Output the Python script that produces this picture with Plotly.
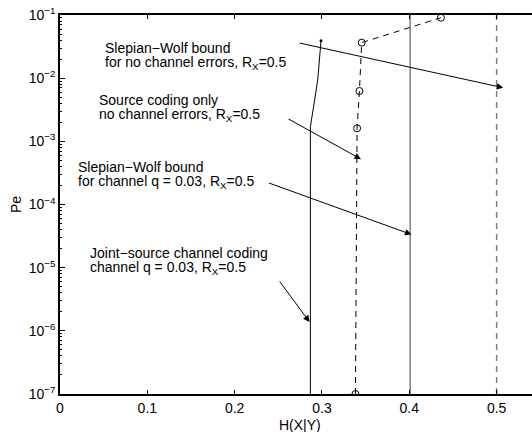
import math
import plotly.graph_objects as go

# ---- data ----
jscc_x = [0.2867, 0.2867, 0.2916, 0.2951, 0.2989]
jscc_y = [1e-7, 1.7e-3, 4.5e-3, 9.3e-3, 0.039]

src_x = [0.3383, 0.3402, 0.3429, 0.3455, 0.4362]
src_y = [1e-7, 1.61e-3, 6.27e-3, 0.0365, 0.0906]

sw_chan_x = [0.401, 0.401]
sw_chan_y = [1e-7, 1e-1]

sw_noerr_x = [0.5, 0.5]
sw_noerr_y = [1e-7, 1e-1]

ytick_vals = [1e-7, 1e-6, 1e-5, 1e-4, 1e-3, 1e-2, 1e-1]
ytick_text = ["10<sup>−7</sup>", "10<sup>−6</sup>", "10<sup>−5</sup>", "10<sup>−4</sup>",
              "10<sup>−3</sup>", "10<sup>−2</sup>", "10<sup>−1</sup>"]
xtick_vals = [0, 0.1, 0.2, 0.3, 0.4, 0.5]
xtick_text = ["0", "0.1", "0.2", "0.3", "0.4", "0.5"]

label_lines = [
    ["Slepian−Wolf bound", "for no channel errors, R<sub>X</sub>=0.5"],
    ["Source coding only", "no channel errors, R<sub>X</sub>=0.5"],
    ["Slepian−Wolf bound", "for channel q = 0.03, R<sub>X</sub>=0.5"],
    ["Joint−source channel coding", "channel q = 0.03, R<sub>X</sub>=0.5"],
]
label_x = [0.0492, 0.0424, 0.0183, 0.0321]
label_logy_top = [-1.523, -2.347, -3.409, -4.772]
label_logy_bot = [-1.761, -2.585, -3.647, -5.010]
arrow_x = [0.5076, 0.3447, 0.4025, 0.2858]
arrow_y = [7.05e-3, 5.22e-4, 3.35e-5, 1.38e-6]
arrow_ax = [-205, -74, -144, -31]
arrow_ay = [-45, -41, -52, -42]

FONT = "Liberation Sans, Arial, Helvetica, sans-serif"

fig = go.Figure()
fig.add_trace(go.Scatter(x=sw_chan_x, y=sw_chan_y, mode="lines",
                         line=dict(color="#7f7f7f", width=1.5), showlegend=False))
fig.add_trace(go.Scatter(x=sw_noerr_x, y=sw_noerr_y, mode="lines",
                         line=dict(color="#7f7f7f", width=1.5, dash="6px,5px"), showlegend=False))
fig.add_trace(go.Scatter(x=src_x, y=src_y, mode="lines+markers",
                         line=dict(color="black", width=1, dash="6px,5px"),
                         marker=dict(symbol="circle-open", size=7, color="black", line=dict(width=1)),
                         showlegend=False))
fig.add_trace(go.Scatter(x=jscc_x, y=jscc_y, mode="lines",
                         line=dict(color="black", width=1), showlegend=False))
fig.add_trace(go.Scatter(x=jscc_x[-1:], y=jscc_y[-1:], mode="markers",
                         marker=dict(symbol="circle", size=3, color="black"), showlegend=False))

annotations = []
for lines, lx, lt, lb in zip(label_lines, label_x, label_logy_top, label_logy_bot):
    for t, ly in zip(lines, [lt, lb]):
        annotations.append(dict(x=lx, y=ly, xref="x", yref="y", text=t, showarrow=False,
                                xanchor="left", yanchor="middle", align="left",
                                font=dict(family=FONT, size=14, color="black")))
for hx, hy, ax, ay in zip(arrow_x, arrow_y, arrow_ax, arrow_ay):
    annotations.append(dict(x=hx, y=math.log10(hy), xref="x", yref="y", text="",
                            showarrow=True, arrowhead=2, arrowsize=1.3, arrowwidth=1,
                            arrowcolor="black", ax=ax, ay=ay, axref="pixel", ayref="pixel",
                            standoff=0))
annotations.append(dict(x=0.275, y=-7.0, xref="x", yref="y", yshift=-21, text="H(X|Y)",
                        showarrow=False, xanchor="center", yanchor="top",
                        font=dict(family=FONT, size=14, color="black")))
fig.update_layout(annotations=annotations)

minor_vals = [m * 10.0 ** e for e in range(-7, -1) for m in range(2, 10)]

fig.update_layout(
    width=532, height=432,
    margin=dict(l=60, r=0, t=15, b=38),
    paper_bgcolor="white", plot_bgcolor="white",
    font=dict(family=FONT, size=14, color="black"),
)
fig.update_xaxes(range=[0, 0.5405], tickvals=xtick_vals, ticktext=xtick_text,
                 ticks="inside", ticklen=4, tickcolor="black",
                 showline=True, linecolor="black", linewidth=1.5, mirror="ticks",
                 showgrid=False, zeroline=False, tickfont=dict(size=14))
fig.update_yaxes(type="log", range=[-7, -1], tickvals=ytick_vals, ticktext=ytick_text,
                 ticks="inside", ticklen=5, tickcolor="black",
                 showline=True, linecolor="black", linewidth=1.5, mirror=False,
                 showgrid=False, zeroline=False, tickfont=dict(size=14),
                 minor=dict(tickvals=minor_vals, ticks="inside", ticklen=2,
                            tickcolor="black", showgrid=False),
                 title=dict(text="Pe", standoff=4, font=dict(size=14)))

fig.write_html("out.html", config={"displayModeBar": False},
               post_script="document.body.style.margin='0px';")
